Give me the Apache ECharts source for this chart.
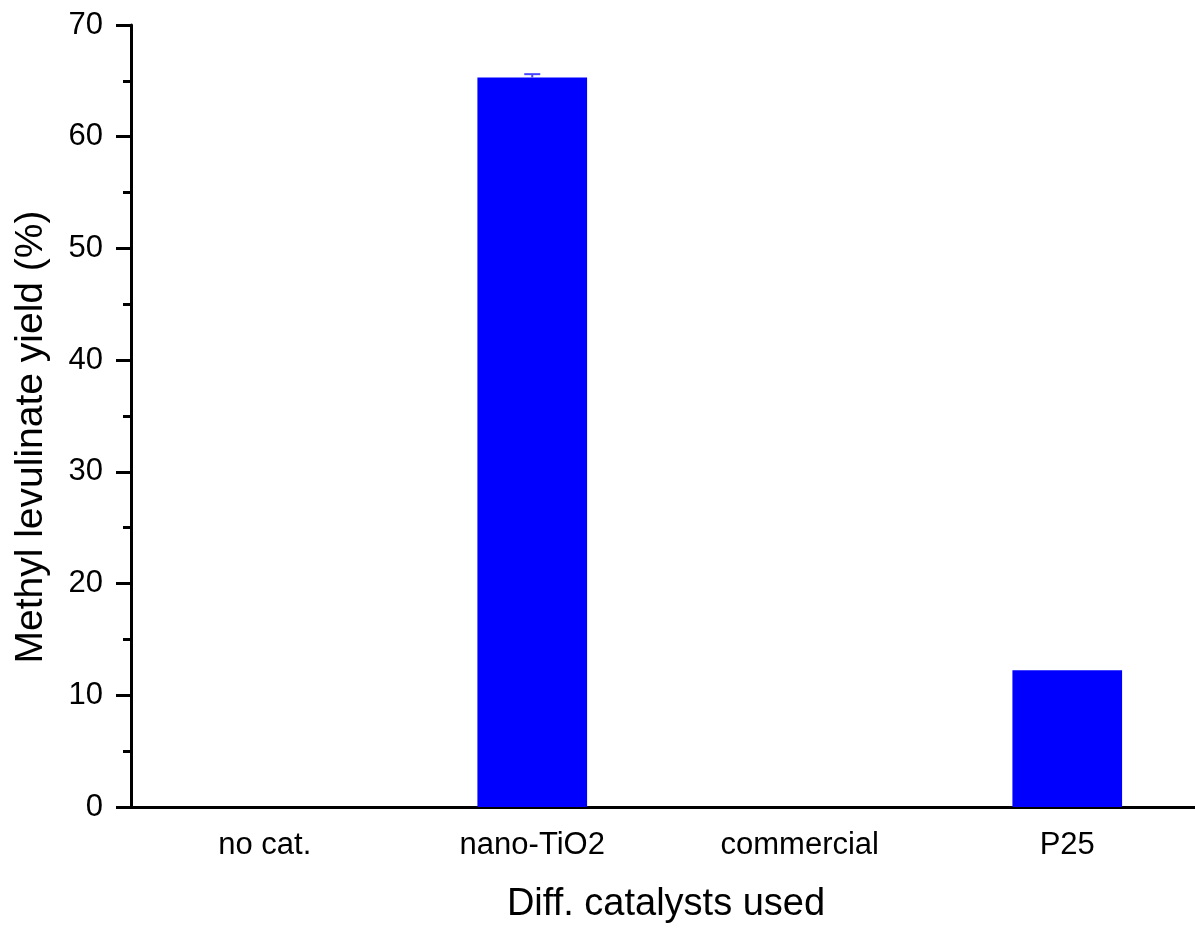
<!DOCTYPE html>
<html>
<head>
<meta charset="utf-8">
<script src="https://cdn.jsdelivr.net/npm/echarts@6/dist/echarts.min.js"></script>
<style>
  html, body { margin: 0; padding: 0; background: #fff; }
  #chart { width: 1195px; height: 928px; }
</style>
</head>
<body>
<div id="chart"></div>
<script>
// catalysts and measured yields
const catalysts = ['no cat.', 'nano-TiO2', 'commercial', 'P25']
const yields = [0, 65.3, 0, 12.25]
const yieldErr = [0, 0.3, 0, 0]
const yTicks = [0, 10, 20, 30, 40, 50, 60, 70]

const FONT = 'Arial, "Liberation Sans", sans-serif'

const chart = echarts.init(document.getElementById('chart'))

// rows for the error bar series: [index, value, err]
const errRows = catalysts.map((c, i) => [i, yields[i], yieldErr[i]])

chart.setOption({
  animation: false,
  grid: {
    left: 131,
    top: 25,
    bottom: 121,
    width: 1070,
    outerBoundsMode: 'none'
  },
  xAxis: [
    {
      type: 'category',
      data: catalysts,
      name: 'Diff. catalysts used',
      nameLocation: 'middle',
      nameGap: 79,
      nameTextStyle: { fontFamily: FONT, fontSize: 38, color: '#000' },
      axisLine: { lineStyle: { color: '#000', width: 3 } },
      // short ticks at the category boundaries
      axisTick: { alignWithLabel: false, length: 8, lineStyle: { color: '#000', width: 3 } },
      axisLabel: { fontFamily: FONT, fontSize: 31, color: '#000', margin: 23 },
      splitLine: { show: false }
    },
    {
      // long ticks under each category
      type: 'category',
      data: catalysts,
      position: 'bottom',
      axisLine: { show: false },
      axisTick: { alignWithLabel: true, length: 15, lineStyle: { color: '#000', width: 3 } },
      axisLabel: { show: false },
      splitLine: { show: false }
    }
  ],
  yAxis: {
    type: 'value',
    min: yTicks[0],
    max: yTicks[yTicks.length - 1],
    interval: 10,
    name: 'Methyl levulinate yield (%)',
    nameLocation: 'middle',
    nameGap: 80,
    nameTextStyle: { fontFamily: FONT, fontSize: 39, color: '#000', padding: [0, 42, 0, 0] },
    axisLine: { show: true, lineStyle: { color: '#000', width: 3 } },
    axisTick: { show: true, length: 15, lineStyle: { color: '#000', width: 3 } },
    minorTick: { show: true, splitNumber: 2, length: 8, lineStyle: { color: '#000', width: 3 } },
    axisLabel: { fontFamily: FONT, fontSize: 31, color: '#000', margin: 28 },
    splitLine: { show: false }
  },
  series: [
    {
      type: 'bar',
      xAxisIndex: 0,
      data: yields,
      barWidth: '41%',
      itemStyle: { color: '#0000ff' }
    },
    {
      type: 'custom',
      xAxisIndex: 0,
      z: 5,
      data: errRows,
      renderItem: (params, api) => {
        const e = api.value(2)
        if (!e) return null
        const x = api.value(0)
        const v = api.value(1)
        const hi = api.coord([x, v + e])
        const top = api.coord([x, v])
        const half = 8
        const style = { stroke: '#4646ff', lineWidth: 2 }
        return {
          type: 'group',
          children: [
            { type: 'line', shape: { x1: hi[0], y1: hi[1], x2: top[0], y2: top[1] }, style },
            { type: 'line', shape: { x1: hi[0] - half, y1: hi[1], x2: hi[0] + half, y2: hi[1] }, style }
          ]
        }
      }
    }
  ]
})
</script>
</body>
</html>
